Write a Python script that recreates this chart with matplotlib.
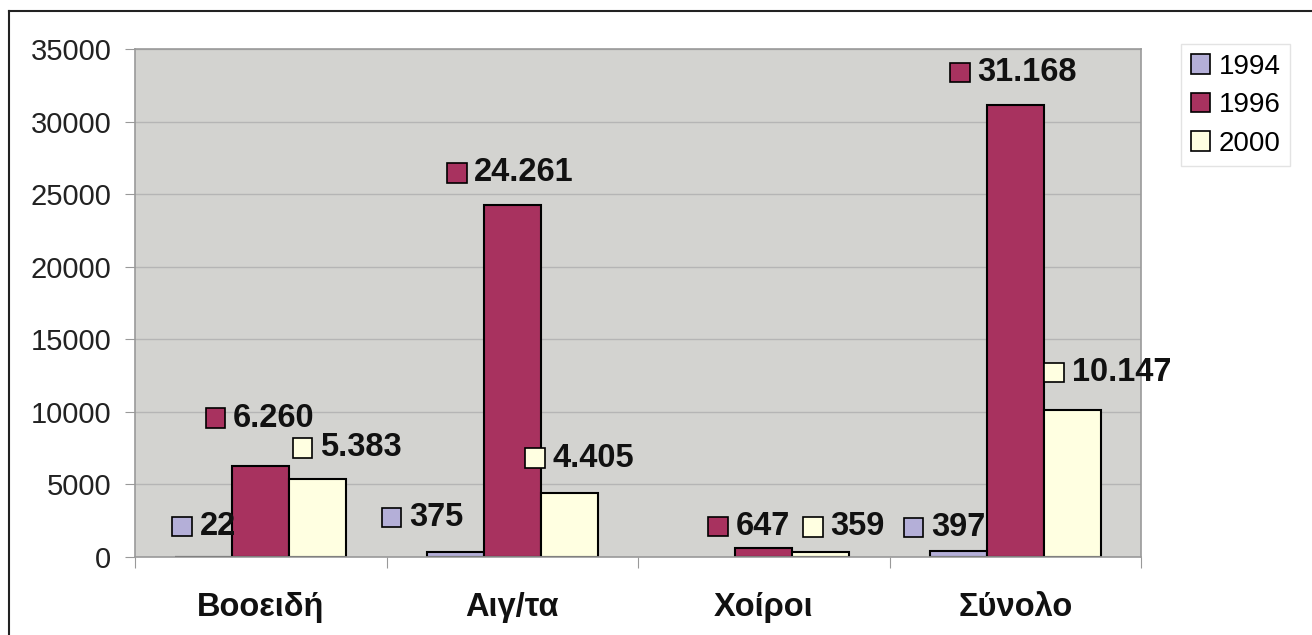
import numpy as np
import matplotlib
matplotlib.use('Agg')
from matplotlib import pyplot as plt
from matplotlib.patches import Rectangle, Patch
from matplotlib.offsetbox import AnnotationBbox, HPacker, DrawingArea, TextArea
from matplotlib.lines import Line2D

plt.rcParams['font.family'] = ['Liberation Sans', 'DejaVu Sans']

categories = ['Βοοειδή', 'Αιγ/τα', 'Χοίροι', 'Σύνολο']
years = ['1994', '1996', '2000']
values_1994 = [22, 375, np.nan, 397]
values_1996 = [6260, 24261, 647, 31168]
values_2000 = [5383, 4405, 359, 10147]

colors = ['#B4AFD8', '#A8325F', '#FFFFE1']

# label nudges in pixels (dx, dy from bar top centre), to mimic excel's placement
nudges = [
    [(0, 30), (-33, 34), (0, 0), (-14, 24)],
    [(-1, 48), (-2, 32), (-15, 21), (-2, 32)],
    [(29, 31), (10, 35), (23, 25), (35, 37)],
]

W, H = 1312, 635
fig = plt.figure(figsize=(W / 100, H / 100), dpi=100)
ax = fig.add_axes([135 / W, 1 - 557 / H, (1141 - 135) / W, (557 - 49) / H])
ax.set_facecolor('#D3D3D0')

x = np.arange(len(categories)) + 0.5
bw = 0.227
series = [values_1994, values_1996, values_2000]
px = 0.72  # points per pixel

for i, vals in enumerate(series):
    xs = x + (i - 1) * bw
    ax.bar(xs, vals, width=bw, color=colors[i], edgecolor='black', linewidth=1.5, zorder=2)
    for j, v in enumerate(vals):
        if np.isnan(v):
            continue
        da = DrawingArea(15, 15, 0, 0)
        da.add_artist(Rectangle((0.5, 0.5), 14, 14, facecolor=colors[i], edgecolor='black', linewidth=1.2))
        txt = TextArea(f"{int(v):,}".replace(",", "."),
                       textprops=dict(fontsize=23.5, fontweight='bold', color='#111111'))
        box = HPacker(children=[da, txt], align='center', pad=0, sep=5)
        dx, dy = nudges[i][j]
        ab = AnnotationBbox(box, (xs[j], v), xybox=(dx * px, dy * px), xycoords='data',
                            boxcoords='offset points', frameon=False, box_alignment=(0.5, 0.5),
                            zorder=3, annotation_clip=False)
        ax.add_artist(ab)

ax.set_xlim(0, 4)
ax.set_ylim(0, 35000)
ax.set_yticks(np.arange(0, 35001, 5000))
ax.yaxis.grid(True, color='#B5B5B5', linewidth=1)
ax.set_axisbelow(True)
ax.tick_params(axis='y', labelsize=21, length=7, color='#999999', pad=10, labelcolor='#222222')

ax.set_xticks([0, 1, 2, 3, 4])
ax.set_xticklabels([])
ax.set_xticks(x, minor=True)
ax.set_xticklabels(categories, minor=True, fontsize=23.5, fontweight='bold', color='#111111')
ax.tick_params(axis='x', which='major', length=8, color='#999999')
ax.tick_params(axis='x', which='minor', length=0, pad=25)

for s in ax.spines.values():
    s.set_color('#9A9A9A')
    s.set_linewidth(1.2)

handles = [Patch(facecolor=c, edgecolor='black', linewidth=1.2) for c in colors]
leg = fig.legend(handles, years, loc='upper left', bbox_to_anchor=(1181 / W, 1 - 44 / H),
                 fontsize=20, frameon=True, fancybox=False, handlelength=0.7, handleheight=0.7,
                 handletextpad=0.3, labelspacing=0.45, borderpad=0.35, borderaxespad=0)
leg.get_frame().set_edgecolor('#DDDDDD')
leg.get_frame().set_linewidth(1)

# outer chart border (right and bottom edges are cropped off)
fig.add_artist(Line2D([9 / W, 1], [1 - 11 / H, 1 - 11 / H], color='#222222', linewidth=1.5))
fig.add_artist(Line2D([9 / W, 9 / W], [0, 1 - 11 / H], color='#222222', linewidth=1.5))

fig.savefig('out.png', dpi=100)
